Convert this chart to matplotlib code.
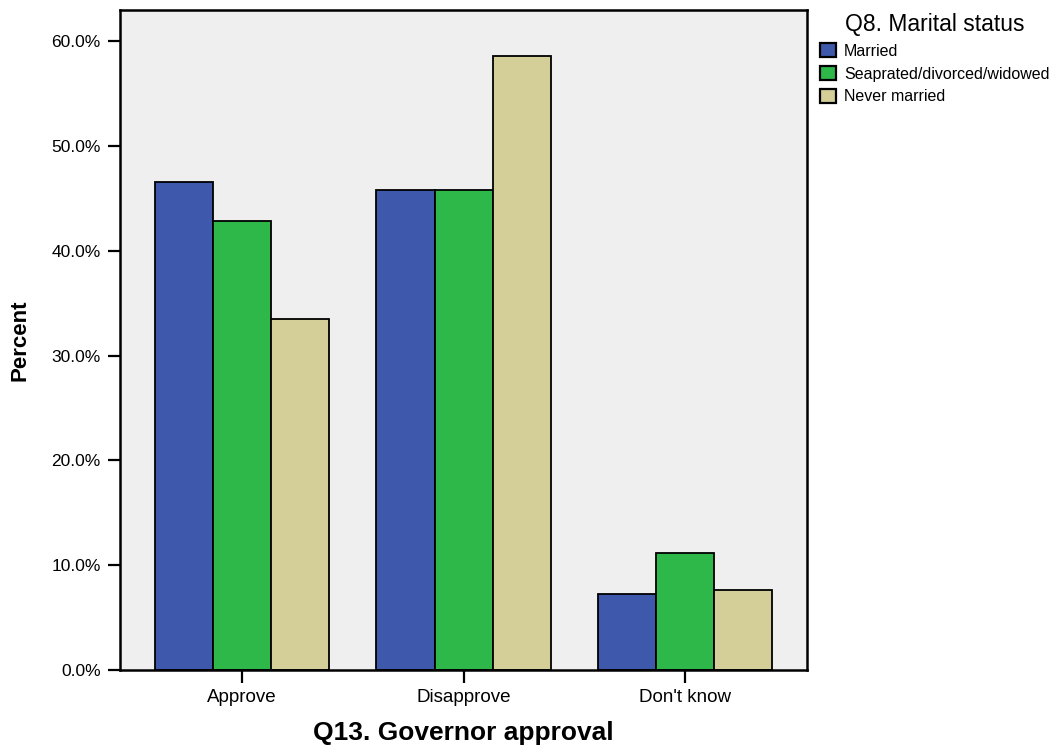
import numpy as np
import matplotlib
matplotlib.use("Agg")
import matplotlib.pyplot as plt
from matplotlib.ticker import FuncFormatter

plt.rcParams["font.family"] = ["Liberation Sans", "DejaVu Sans"]

# --- dados ---
categories = ["Approve", "Disapprove", "Don't know"]
series_names = ["Married", "Seaprated/divorced/widowed", "Never married"]
married = [46.6, 45.8, 7.3]
separated = [42.9, 45.8, 11.2]
never_married = [33.5, 58.6, 7.6]
yticks = [0, 10, 20, 30, 40, 50, 60]

colors = ["#3e58ac", "#2fb84a", "#d4cf99"]

fig = plt.figure(figsize=(10.54, 7.46), dpi=100)
ax = fig.add_axes([0.1139, 0.1019, 0.6518, 0.8847])
ax.set_facecolor("#efefef")

x = np.arange(len(categories))
width = 0.262
for i, (vals, name, col) in enumerate(zip([married, separated, never_married],
                                          series_names, colors)):
    ax.bar(x + (i - 1) * width, vals, width, color=col, edgecolor="black",
           linewidth=1.3, label=name, zorder=2)

ax.set_xlim(-0.55, 2.55)
ax.set_ylim(0, 63)
ax.set_yticks(yticks)
ax.yaxis.set_major_formatter(FuncFormatter(lambda v, p: f"{v:.1f}%"))
ax.set_xticks(x)
ax.set_xticklabels(categories, fontsize=13.5)
ax.tick_params(axis="y", direction="out", length=9, width=1.6, pad=5,
               labelsize=12.5)
ax.tick_params(axis="x", direction="out", length=9, width=1.6, pad=5)
for s in ax.spines.values():
    s.set_linewidth(1.8)

ax.set_ylabel("Percent", fontsize=16, fontweight="bold")
ax.yaxis.set_label_coords(-0.146, 0.5)
ax.set_xlabel("Q13. Governor approval", fontsize=19, fontweight="bold")
ax.xaxis.set_label_coords(0.5, -0.095)
ax.xaxis.label.set_va("center")
ax.yaxis.label.set_va("center")

leg = ax.legend(loc="upper left", bbox_to_anchor=(1.005, 1.01),
                title="Q8. Marital status", title_fontsize=16.5,
                fontsize=11.5, frameon=False, handlelength=1.0,
                handleheight=1.0, handletextpad=0.5, labelspacing=0.45,
                borderaxespad=0.2)
for h in leg.legend_handles:
    h.set_edgecolor("black")
    h.set_linewidth(1.6)

fig.savefig("out.png", dpi=100)
